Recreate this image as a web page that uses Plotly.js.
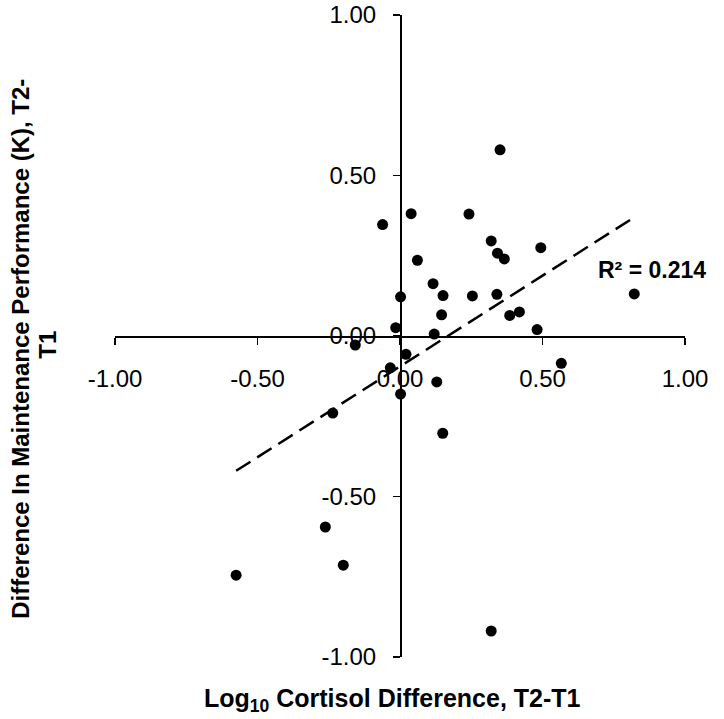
<!DOCTYPE html>
<html>
<head>
<meta charset="utf-8">
<script src="https://cdn.plot.ly/plotly-3.0.1.min.js"></script>
<style>html,body{margin:0;padding:0;background:#fff;}</style>
</head>
<body>
<div id="chart" style="width:724px;height:719px;"></div>
<script>
// Log10 cortisol difference (T2-T1)
const cortisolDiff = [-0.061, 0.039, 0.061, 0.116, 0.151, 0.002, 0.146, -0.015, 0.120, -0.157,
  0.021, -0.034, 0.351, 0.242, 0.320, 0.342, 0.366, 0.494, 0.254, 0.340,
  0.385, 0.419, 0.481, 0.822, 0.566, 0.129, 0.002, -0.236, 0.150, -0.262,
  -0.199, -0.575, 0.320];
// Difference in maintenance performance (K), T2-T1
const performanceDiff = [0.347, 0.381, 0.236, 0.163, 0.126, 0.122, 0.066, 0.026, 0.006, -0.028,
  -0.057, -0.099, 0.580, 0.380, 0.296, 0.258, 0.240, 0.275, 0.125, 0.130,
  0.064, 0.075, 0.020, 0.131, -0.085, -0.143, -0.181, -0.240, -0.303, -0.595,
  -0.714, -0.745, -0.919];
// Linear trendline end points
const trendX = [-0.575, 0.822];
const trendY = [-0.420, 0.370];
const rSquaredLabel = "R² = 0.214";
const tickValues = [-1, -0.5, 0, 0.5, 1];
const tickLabels = ["-1.00", "-0.50", "0.00", "0.50", "1.00"];
const xTitle = "Log<sub>10</sub> Cortisol Difference, T2-T1";
const yTitleLine1 = "Difference In Maintenance Performance (K), T2-";
const yTitleLine2 = "T1";

const tickFont = {family: "Liberation Sans, Arial, sans-serif", size: 24, color: "#000"};
const xTitleFont = {family: "Liberation Sans, Arial, sans-serif", size: 25, color: "#000", weight: 700};
const yTitleFont = {family: "Liberation Sans, Arial, sans-serif", size: 24, color: "#000", weight: 700};

const traces = [
  {
    x: trendX, y: trendY, type: "scatter", mode: "lines",
    line: {color: "#000", width: 2.5, dash: "17px,8px"},
    hoverinfo: "skip"
  },
  {
    x: cortisolDiff, y: performanceDiff, type: "scatter", mode: "markers",
    marker: {color: "#000", size: 11}
  }
];

const axisCommon = {
  range: [-1, 1], anchor: "free", position: 0.5,
  showline: true, linecolor: "#000", linewidth: 1.5,
  ticks: "outside", ticklen: 7, tickwidth: 1.5, tickcolor: "#000",
  tickvals: tickValues, ticktext: tickLabels,
  showgrid: false, zeroline: false, tickfont: tickFont, fixedrange: true
};

const layout = {
  width: 724, height: 719,
  margin: {l: 115, r: 39, t: 15, b: 62},
  paper_bgcolor: "#fff", plot_bgcolor: "#fff",
  showlegend: false,
  xaxis: Object.assign({}, axisCommon, {ticklabelstandoff: 14}),
  yaxis: Object.assign({}, axisCommon, {ticklabelstandoff: 12}),
  annotations: [
    {text: rSquaredLabel, xref: "x", yref: "y", x: 0.884, y: 0.206, showarrow: false,
     font: {family: "Liberation Sans, Arial, sans-serif", size: 23, color: "#000", weight: 700}},
    {text: xTitle, xref: "paper", yref: "paper", x: 0.486, y: -0.067, showarrow: false,
     xanchor: "center", yanchor: "middle", font: xTitleFont},
    {text: yTitleLine1, xref: "paper", yref: "paper", x: -0.165, y: 0.48, showarrow: false,
     xanchor: "center", yanchor: "middle", textangle: -90, font: yTitleFont},
    {text: yTitleLine2, xref: "paper", yref: "paper", x: -0.118, y: 0.486, showarrow: false,
     xanchor: "center", yanchor: "middle", textangle: -90, font: yTitleFont}
  ]
};

Plotly.newPlot("chart", traces, layout, {displayModeBar: false, staticPlot: true});
</script>
</body>
</html>
